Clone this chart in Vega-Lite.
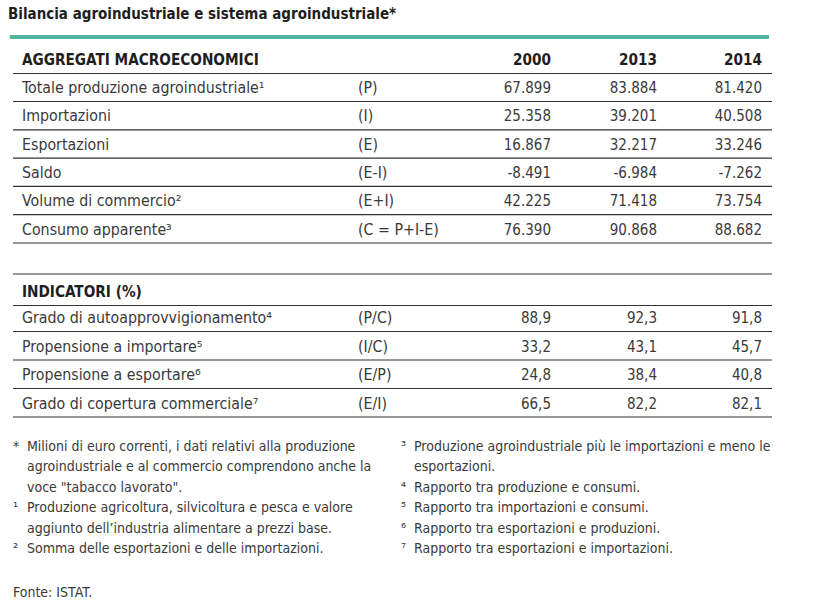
{
  "$schema": "https://vega.github.io/schema/vega-lite/v6.json",
  "width": 819,
  "height": 608,
  "padding": 0,
  "autosize": {"type": "fit", "contains": "padding"},
  "background": "#ffffff",
  "config": {
    "view": {"stroke": null},
    "locale": {"number": {"decimal": ",", "thousands": ".", "grouping": [3], "currency": ["€", ""], "minus": "-"}},
    "text": {"font": "Liberation Sans Narrow, DejaVu Sans Condensed, Roboto, sans-serif", "baseline": "middle", "color": "#3a3a3a"}
  },
  "datasets": {
    "table": [
      {"r": 3, "sec": "agg", "label": "Totale produzione agroindustriale¹", "code": "(P)", "v2000": 67899, "v2013": 83884, "v2014": 81420},
      {"r": 4, "sec": "agg", "label": "Importazioni", "code": "(I)", "v2000": 25358, "v2013": 39201, "v2014": 40508},
      {"r": 5, "sec": "agg", "label": "Esportazioni", "code": "(E)", "v2000": 16867, "v2013": 32217, "v2014": 33246},
      {"r": 6, "sec": "agg", "label": "Saldo", "code": "(E-I)", "v2000": -8491, "v2013": -6984, "v2014": -7262},
      {"r": 7, "sec": "agg", "label": "Volume di commercio²", "code": "(E+I)", "v2000": 42225, "v2013": 71418, "v2014": 73754},
      {"r": 8, "sec": "agg", "label": "Consumo apparente³", "code": "(C = P+I-E)", "v2000": 76390, "v2013": 90868, "v2014": 88682},
      {"r": 11, "sec": "ind", "label": "Grado di autoapprovvigionamento⁴", "code": "(P/C)", "v2000": 88.9, "v2013": 92.3, "v2014": 91.8},
      {"r": 12, "sec": "ind", "label": "Propensione a importare⁵", "code": "(I/C)", "v2000": 33.2, "v2013": 43.1, "v2014": 45.7},
      {"r": 13, "sec": "ind", "label": "Propensione a esportare⁶", "code": "(E/P)", "v2000": 24.8, "v2013": 38.4, "v2014": 40.8},
      {"r": 14, "sec": "ind", "label": "Grado di copertura commerciale⁷", "code": "(E/I)", "v2000": 66.5, "v2013": 82.2, "v2014": 82.1}
    ],
    "heads": [
      {"r": 2, "label": "AGGREGATI MACROECONOMICI", "h2000": "2000", "h2013": "2013", "h2014": "2014"},
      {"r": 10, "label": "INDICATORI (%)", "h2000": "", "h2013": "", "h2014": ""}
    ],
    "borders": [
      {"r": 2, "side": "below"}, {"r": 3, "side": "below"}, {"r": 4, "side": "below"}, {"r": 5, "side": "below"},
      {"r": 6, "side": "below"}, {"r": 7, "side": "below"}, {"r": 8, "side": "below"},
      {"r": 10, "side": "above"}, {"r": 10, "side": "below"}, {"r": 11, "side": "below"}, {"r": 12, "side": "below"},
      {"r": 13, "side": "below"}, {"r": 14, "side": "below"}
    ],
    "notes": [
      {"r": 15, "side": "left", "mark": "*", "text": "Milioni di euro correnti, i dati relativi alla produzione"},
      {"r": 16, "side": "left", "mark": "", "text": "agroindustriale e al commercio comprendono anche la"},
      {"r": 17, "side": "left", "mark": "", "text": "voce \"tabacco lavorato\"."},
      {"r": 18, "side": "left", "mark": "¹", "text": "Produzione agricoltura, silvicoltura e pesca e valore"},
      {"r": 19, "side": "left", "mark": "", "text": "aggiunto dell’industria alimentare a prezzi base."},
      {"r": 20, "side": "left", "mark": "²", "text": "Somma delle esportazioni e delle importazioni."},
      {"r": 15, "side": "right", "mark": "³", "text": "Produzione agroindustriale più le importazioni e meno le"},
      {"r": 16, "side": "right", "mark": "", "text": "esportazioni."},
      {"r": 17, "side": "right", "mark": "⁴", "text": "Rapporto tra produzione e consumi."},
      {"r": 18, "side": "right", "mark": "⁵", "text": "Rapporto tra importazioni e consumi."},
      {"r": 19, "side": "right", "mark": "⁶", "text": "Rapporto tra esportazioni e produzioni."},
      {"r": 20, "side": "right", "mark": "⁷", "text": "Rapporto tra esportazioni e importazioni."}
    ],
    "titles": [
      {"r": 0, "t": "Bilancia agroindustriale e sistema agroindustriale*"}
    ],
    "source": [
      {"r": 22, "t": "Fonte: ISTAT."}
    ]
  },
  "layer": [
    {
      "data": {"values": [{"r": 1}]},
      "mark": {"type": "rule", "color": "#52b5a0", "strokeWidth": 4},
      "encoding": {
        "y": {"field": "r", "type": "quantitative", "axis": null, "scale": {"domain": [0, 1, 2, 3, 8, 9, 10, 11, 14, 15, 20, 22], "range": [14, 37, 60, 88, 229.5, 257, 292, 318, 403.5, 447, 549, 593], "zero": false, "nice": false, "clamp": false}},
        "x": {"datum": 0.35, "type": "quantitative", "axis": null, "scale": {"domain": [0, 1, 2, 3, 4, 5, 6, 7, 8, 9, 10], "range": [8, 13, 22, 27, 358, 401, 414, 551, 657, 762, 772], "zero": false, "nice": false}},
        "x2": {"datum": 9.7}
      }
    },
    {
      "data": {"name": "borders"},
      "transform": [{"filter": "datum.side === 'below'"}],
      "mark": {"type": "rule", "color": "#333333", "strokeWidth": 1.2, "yOffset": 13.5},
      "encoding": {
        "y": {"field": "r", "type": "quantitative"},
        "x": {"datum": 1, "type": "quantitative"},
        "x2": {"datum": 10}
      }
    },
    {
      "data": {"name": "borders"},
      "transform": [{"filter": "datum.side === 'above'"}],
      "mark": {"type": "rule", "color": "#333333", "strokeWidth": 1.2, "yOffset": -18},
      "encoding": {
        "y": {"field": "r", "type": "quantitative"},
        "x": {"datum": 1, "type": "quantitative"},
        "x2": {"datum": 10}
      }
    },
    {
      "data": {"name": "titles"},
      "mark": {"type": "text", "align": "left", "fontSize": 15, "fontWeight": "bold", "color": "#1e1e1e"},
      "encoding": {
        "y": {"field": "r", "type": "quantitative"},
        "x": {"datum": 0, "type": "quantitative"},
        "text": {"field": "t"}
      }
    },
    {
      "data": {"name": "heads"},
      "mark": {"type": "text", "align": "left", "fontSize": 15.2, "fontWeight": "bold", "color": "#1e1e1e"},
      "encoding": {
        "y": {"field": "r", "type": "quantitative"},
        "x": {"datum": 2, "type": "quantitative"},
        "text": {"field": "label"}
      }
    },
    {
      "data": {"name": "heads"},
      "mark": {"type": "text", "align": "right", "fontSize": 15.2, "fontWeight": "bold", "color": "#1e1e1e"},
      "encoding": {
        "y": {"field": "r", "type": "quantitative"},
        "x": {"datum": 7, "type": "quantitative"},
        "text": {"field": "h2000"}
      }
    },
    {
      "data": {"name": "heads"},
      "mark": {"type": "text", "align": "right", "fontSize": 15.2, "fontWeight": "bold", "color": "#1e1e1e"},
      "encoding": {
        "y": {"field": "r", "type": "quantitative"},
        "x": {"datum": 8, "type": "quantitative"},
        "text": {"field": "h2013"}
      }
    },
    {
      "data": {"name": "heads"},
      "mark": {"type": "text", "align": "right", "fontSize": 15.2, "fontWeight": "bold", "color": "#1e1e1e"},
      "encoding": {
        "y": {"field": "r", "type": "quantitative"},
        "x": {"datum": 9, "type": "quantitative"},
        "text": {"field": "h2014"}
      }
    },
    {
      "data": {"name": "table"},
      "mark": {"type": "text", "align": "left", "fontSize": 15.8},
      "encoding": {
        "y": {"field": "r", "type": "quantitative"},
        "x": {"datum": 2, "type": "quantitative"},
        "text": {"field": "label"}
      }
    },
    {
      "data": {"name": "table"},
      "mark": {"type": "text", "align": "left", "fontSize": 15.8},
      "encoding": {
        "y": {"field": "r", "type": "quantitative"},
        "x": {"datum": 4, "type": "quantitative"},
        "text": {"field": "code"}
      }
    },
    {
      "data": {"name": "table"},
      "transform": [{"filter": "datum.sec === 'agg'"}],
      "mark": {"type": "text", "align": "right", "fontSize": 15},
      "encoding": {
        "y": {"field": "r", "type": "quantitative"},
        "x": {"datum": 7, "type": "quantitative"},
        "text": {"field": "v2000", "type": "quantitative", "format": ",.0f"}
      }
    },
    {
      "data": {"name": "table"},
      "transform": [{"filter": "datum.sec === 'agg'"}],
      "mark": {"type": "text", "align": "right", "fontSize": 15},
      "encoding": {
        "y": {"field": "r", "type": "quantitative"},
        "x": {"datum": 8, "type": "quantitative"},
        "text": {"field": "v2013", "type": "quantitative", "format": ",.0f"}
      }
    },
    {
      "data": {"name": "table"},
      "transform": [{"filter": "datum.sec === 'agg'"}],
      "mark": {"type": "text", "align": "right", "fontSize": 15},
      "encoding": {
        "y": {"field": "r", "type": "quantitative"},
        "x": {"datum": 9, "type": "quantitative"},
        "text": {"field": "v2014", "type": "quantitative", "format": ",.0f"}
      }
    },
    {
      "data": {"name": "table"},
      "transform": [{"filter": "datum.sec === 'ind'"}],
      "mark": {"type": "text", "align": "right", "fontSize": 15},
      "encoding": {
        "y": {"field": "r", "type": "quantitative"},
        "x": {"datum": 7, "type": "quantitative"},
        "text": {"field": "v2000", "type": "quantitative", "format": ",.1f"}
      }
    },
    {
      "data": {"name": "table"},
      "transform": [{"filter": "datum.sec === 'ind'"}],
      "mark": {"type": "text", "align": "right", "fontSize": 15},
      "encoding": {
        "y": {"field": "r", "type": "quantitative"},
        "x": {"datum": 8, "type": "quantitative"},
        "text": {"field": "v2013", "type": "quantitative", "format": ",.1f"}
      }
    },
    {
      "data": {"name": "table"},
      "transform": [{"filter": "datum.sec === 'ind'"}],
      "mark": {"type": "text", "align": "right", "fontSize": 15},
      "encoding": {
        "y": {"field": "r", "type": "quantitative"},
        "x": {"datum": 9, "type": "quantitative"},
        "text": {"field": "v2014", "type": "quantitative", "format": ",.1f"}
      }
    },
    {
      "data": {"name": "notes"},
      "transform": [{"filter": "datum.side === 'left'"}],
      "mark": {"type": "text", "align": "left", "fontSize": 14},
      "encoding": {
        "y": {"field": "r", "type": "quantitative"},
        "x": {"datum": 1, "type": "quantitative"},
        "text": {"field": "mark"}
      }
    },
    {
      "data": {"name": "notes"},
      "transform": [{"filter": "datum.side === 'left'"}],
      "mark": {"type": "text", "align": "left", "fontSize": 14},
      "encoding": {
        "y": {"field": "r", "type": "quantitative"},
        "x": {"datum": 3, "type": "quantitative"},
        "text": {"field": "text"}
      }
    },
    {
      "data": {"name": "notes"},
      "transform": [{"filter": "datum.side === 'right'"}],
      "mark": {"type": "text", "align": "left", "fontSize": 14},
      "encoding": {
        "y": {"field": "r", "type": "quantitative"},
        "x": {"datum": 5, "type": "quantitative"},
        "text": {"field": "mark"}
      }
    },
    {
      "data": {"name": "notes"},
      "transform": [{"filter": "datum.side === 'right'"}],
      "mark": {"type": "text", "align": "left", "fontSize": 14},
      "encoding": {
        "y": {"field": "r", "type": "quantitative"},
        "x": {"datum": 6, "type": "quantitative"},
        "text": {"field": "text"}
      }
    },
    {
      "data": {"name": "source"},
      "mark": {"type": "text", "align": "left", "fontSize": 14},
      "encoding": {
        "y": {"field": "r", "type": "quantitative"},
        "x": {"datum": 1, "type": "quantitative"},
        "text": {"field": "t"}
      }
    }
  ]
}
